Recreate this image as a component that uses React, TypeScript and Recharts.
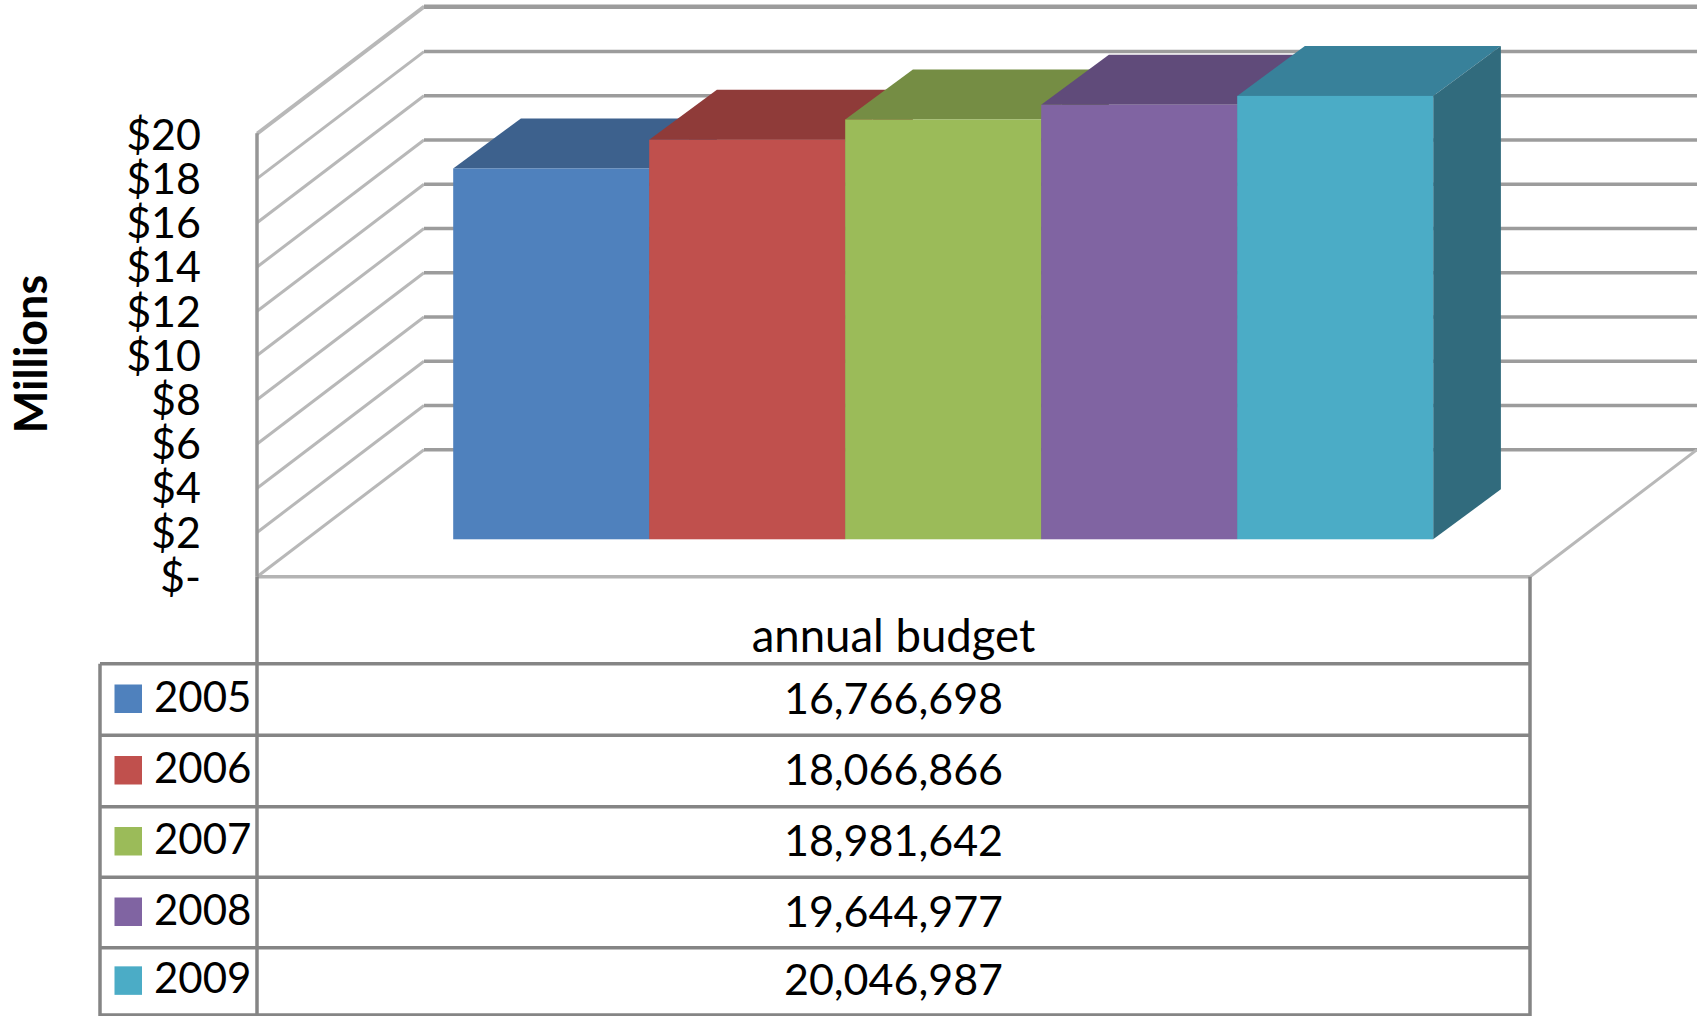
import React from 'react';
import { BarChart, Bar, XAxis, YAxis, CartesianGrid, Customized } from 'recharts';

// Budget figures per year, in dollars
const years = ['2005', '2006', '2007', '2008', '2009'];
const budgets = [16766698, 18066866, 18981642, 19644977, 20046987];
const category = 'annual budget';
const yTicks = [0, 2000000, 4000000, 6000000, 8000000, 10000000, 12000000, 14000000, 16000000, 18000000, 20000000];
const frontColors = ['#4f81bd', '#c0504d', '#9bbb59', '#8064a2', '#4bacc6'];
const topColors = ['#3d618d', '#8f3b39', '#758d44', '#604b7a', '#38819a'];
const sideColors = ['#2f4d70', '#722f2d', '#5d7036', '#4c3c61', '#316b7d'];

const row: Record<string, string | number> = { name: category };
years.forEach((y, i) => { row[y] = budgets[i]; });
const chartData = [row];

// Oblique projection of the box: how far the back wall sits from the front plane
const WALL_DX = 167;
const WALL_DY = 127;
// Bars start part-way into the floor and have their own depth
const BAR_INSET_DX = 49.2;
const BAR_INSET_DY = 37.4;
const BAR_DX = 67.7;
const BAR_DY = 50;

const FONT = 'Lato, sans-serif';
const FONT_SIZE = 43;
const TABLE_STROKE = '#858585';
const GRID_STROKE = '#9c9c9c';
const DIAG_STROKE = '#b8b8b8';

const W = 1697;
const H = 1016;
const PLOT_LEFT = 257;
const PLOT_RIGHT = 1530;
const PLOT_TOP = 133.3;
const PLOT_BOTTOM = 576.7;
const TABLE_LEFT = 100;
const ROW_LINES = [663.7, 735.3, 806.7, 877.3, 947.7, 1015];

// A bar as a box: front face, top face and right-hand side face
function BoxBar(props: any) {
  const { x, y, width, height, index } = props;
  const colorIndex = props.colorIndex ?? index;
  const fx = x + BAR_INSET_DX;
  const fy = y - BAR_INSET_DY;
  const fr = fx + width;
  const fb = fy + height;
  return (
    <g>
      <polygon
        points={`${fx},${fy} ${fx + BAR_DX},${fy - BAR_DY} ${fr + BAR_DX},${fy - BAR_DY} ${fr},${fy}`}
        fill={topColors[colorIndex]}
      />
      <polygon
        points={`${fr},${fy} ${fr + BAR_DX},${fy - BAR_DY} ${fr + BAR_DX},${fb - BAR_DY} ${fr},${fb}`}
        fill={sideColors[colorIndex]}
      />
      <rect x={fx} y={fy} width={width} height={height} fill={frontColors[colorIndex]} />
    </g>
  );
}

// One gridline wraps from the front edge along the side wall and across the back wall
function WallLine(props: any) {
  const { x1, x2, y1, y, height } = props;
  const isFloor = Math.abs(y1 - (y + height)) < 1;
  const backLeft = x1 + WALL_DX;
  const backY = y1 - WALL_DY;
  const backRight = x2 + WALL_DX;
  return (
    <g key={props.key}>
      <line x1={x1} y1={y1} x2={backLeft} y2={backY} stroke={DIAG_STROKE} strokeWidth={3} />
      <line x1={backLeft} y1={backY} x2={backRight} y2={backY} stroke={GRID_STROKE} strokeWidth={3.5} />
      {isFloor && (
        <>
          <line x1={x1} y1={y1} x2={x2} y2={y1} stroke="#b4b4b4" strokeWidth={3.5} />
          <line x1={x2} y1={y1} x2={backRight} y2={backY} stroke={DIAG_STROKE} strokeWidth={3} />
        </>
      )}
    </g>
  );
}

// Data table under the plot: category header, legend keys and one row per year
function DataTable() {
  const centerX = (PLOT_LEFT + PLOT_RIGHT) / 2;
  const textStyle = { fontFamily: FONT, fontSize: FONT_SIZE, fill: '#000' };
  return (
    <g>
      <line x1={PLOT_LEFT} y1={PLOT_BOTTOM} x2={PLOT_LEFT} y2={H} stroke={TABLE_STROKE} strokeWidth={3.5} />
      <line x1={PLOT_RIGHT} y1={PLOT_BOTTOM} x2={PLOT_RIGHT} y2={H} stroke={TABLE_STROKE} strokeWidth={3.5} />
      <line x1={TABLE_LEFT} y1={ROW_LINES[0]} x2={TABLE_LEFT} y2={H} stroke={TABLE_STROKE} strokeWidth={3.5} />
      {ROW_LINES.map((ly) => (
        <line key={ly} x1={TABLE_LEFT} y1={ly} x2={PLOT_RIGHT} y2={ly} stroke={TABLE_STROKE} strokeWidth={3.5} />
      ))}
      <text x={centerX} y={652} textAnchor="middle" {...textStyle} fontSize={45.5}>{category}</text>
      {years.map((year, i) => {
        const top = ROW_LINES[i];
        const bottom = ROW_LINES[i + 1];
        const mid = (top + bottom) / 2;
        return (
          <g key={year}>
            <rect x={114.5} y={mid - 15} width={27.5} height={28.5} fill={frontColors[i]} />
            <text x={154} y={mid + 12} {...textStyle} fontSize={42}>{year}</text>
            <text x={centerX} y={mid + 14} textAnchor="middle" {...textStyle}>
              {budgets[i].toLocaleString('en-US')}
            </text>
          </g>
        );
      })}
    </g>
  );
}

const formatTick = (v: number) => (v === 0 ? '$-' : `$${v / 1000000}`);

export default function App() {
  return (
    <div style={{ position: 'absolute', left: 0, top: 0, width: W, height: H, overflow: 'hidden', background: '#fff' }}>
      <BarChart
        width={W}
        height={H}
        data={chartData}
        margin={{ top: PLOT_TOP, right: W - PLOT_RIGHT, bottom: H - PLOT_BOTTOM, left: 0 }}
        barCategoryGap={147}
        barGap={0}
      >
        <CartesianGrid vertical={false} horizontal={(p: any) => <WallLine {...p} />} />
        <XAxis dataKey="name" hide />
        <YAxis
          width={PLOT_LEFT}
          domain={[0, 20000000]}
          ticks={yTicks}
          interval={0}
          tickFormatter={formatTick}
          tickLine={false}
          tickMargin={50}
          axisLine={{ stroke: '#969696', strokeWidth: 3.5 }}
          tick={{ fontFamily: FONT, fontSize: FONT_SIZE, fill: '#000' }}
          label={() => (
            <text
              transform="translate(47,354) rotate(-90)"
              textAnchor="middle"
              fontFamily={FONT}
              fontSize={45}
              fontWeight={700}
              fill="#000"
            >
              Millions
            </text>
          )}
        />
        {years.map((year, i) => (
          <Bar
            key={year}
            dataKey={year}
            isAnimationActive={false}
            shape={(p: any) => <BoxBar {...p} colorIndex={i} />}
          />
        ))}
        <Customized component={DataTable} />
      </BarChart>
    </div>
  );
}
